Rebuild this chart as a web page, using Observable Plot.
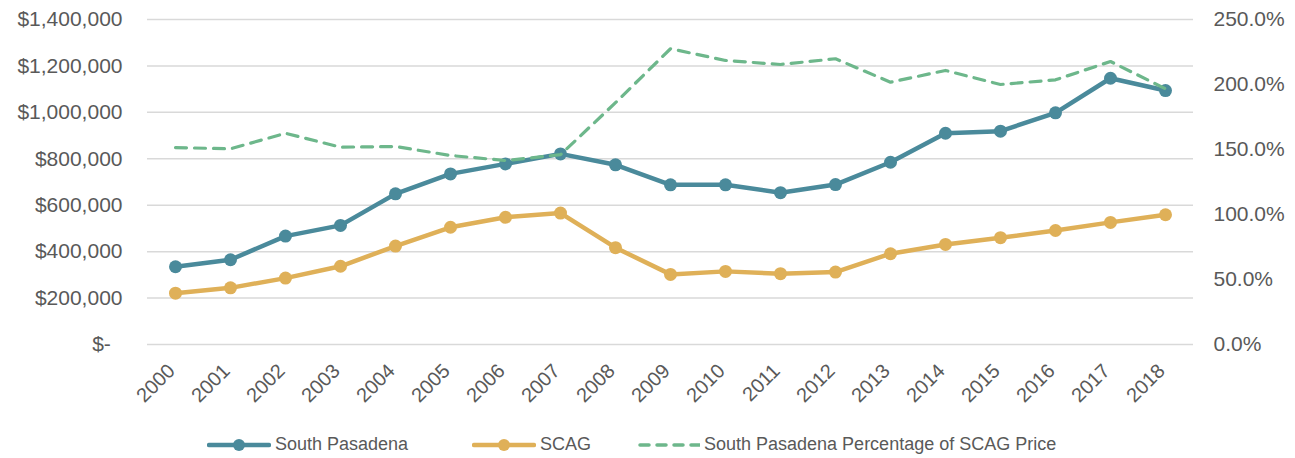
<!DOCTYPE html>
<html>
<head>
<meta charset="utf-8">
<script src="https://cdn.jsdelivr.net/npm/d3@7"></script>
<script src="https://cdn.jsdelivr.net/npm/@observablehq/plot@0.6"></script>
<style>
  html, body { margin: 0; padding: 0; background: #fff; }
  #chart { width: 1295px; }
  .legend { position: relative; height: 33px; width: 1295px; font-family: "Liberation Sans", Arial, sans-serif; font-size: 18px; color: #595959; }
  .item { position: absolute; top: 3px; height: 33px; display: flex; align-items: center; }
  .item svg { margin-right: 4px; }
</style>
</head>
<body>
<div id="chart"></div>
<div class="legend" id="legend"></div>
<script>
const years = ["2000","2001","2002","2003","2004","2005","2006","2007","2008","2009","2010","2011","2012","2013","2014","2015","2016","2017","2018"];
const southPasadena = [335000, 365000, 467000, 513000, 649000, 735000, 778000, 821000, 774000, 688000, 688000, 654000, 689000, 785000, 910000, 919000, 998000, 1147000, 1094000];
const scag = [221000, 244000, 286000, 337000, 424000, 505000, 548000, 566000, 417000, 302000, 315000, 305000, 312000, 391000, 431000, 460000, 491000, 526000, 559000];
const pctOfScag = [151.5, 150.5, 162.5, 151.8, 152.3, 145.4, 141.5, 146.0, 186.0, 227.5, 218.5, 215.4, 219.8, 201.8, 210.8, 200.0, 203.6, 217.7, 196.7];
const dollarTicks = [0, 200000, 400000, 600000, 800000, 1000000, 1200000, 1400000];
const pctTicks = [0, 50, 100, 150, 200, 250];
const seriesNames = ["South Pasadena", "SCAG", "South Pasadena Percentage of SCAG Price"];
const colors = ["#4a8a9b", "#dfb058", "#6db78b"];

const yMax = 1400000, pMax = 250;
const toDollar = p => p * yMax / pMax;

const sp = years.map((y, i) => ({year: y, v: southPasadena[i]}));
const sc = years.map((y, i) => ({year: y, v: scag[i]}));
const pc = years.map((y, i) => ({year: y, v: toDollar(pctOfScag[i])}));

const font = "Liberation Sans, Arial, sans-serif";
const chart = Plot.plot({
  width: 1295,
  height: 425,
  marginLeft: 147,
  marginRight: 102,
  marginTop: 19,
  marginBottom: 81,
  style: {fontFamily: font, fontSize: "21px", color: "#595959", background: "#fff"},
  x: {type: "point", domain: years, padding: 0.5},
  y: {domain: [0, yMax]},
  marks: [
    Plot.ruleY(dollarTicks, {stroke: "#d9d9d9", strokeWidth: 1.5}),
    Plot.axisY({anchor: "left", ticks: dollarTicks, tickSize: 0, tickPadding: 25, label: null,
      tickFormat: d => d === 0 ? "$-\u2007" : "$" + d3.format(",")(d), fontSize: 21}),
    Plot.axisY({anchor: "right", ticks: pctTicks.map(toDollar), tickSize: 0, tickPadding: 20, label: null,
      tickFormat: d => (d * pMax / yMax).toFixed(1) + "%", fontSize: 21}),
    Plot.axisX({tickSize: 0, tickPadding: 23, dx: -4, tickRotate: -45, label: null, fontSize: 20}),
    Plot.line(sc, {x: "year", y: "v", stroke: colors[1], strokeWidth: 4.5}),
    Plot.dot(sc, {x: "year", y: "v", fill: colors[1], r: 6.5}),
    Plot.line(sp, {x: "year", y: "v", stroke: colors[0], strokeWidth: 4.5}),
    Plot.dot(sp, {x: "year", y: "v", fill: colors[0], r: 6.5}),
    Plot.line(pc, {x: "year", y: "v", stroke: colors[2], strokeWidth: 3.2, strokeDasharray: "11 8", strokeLinecap: "round"})
  ]
});
document.getElementById("chart").appendChild(chart);

// legend
const lg = document.getElementById("legend");
const lefts = [207, 472, 638];
seriesNames.forEach((name, i) => {
  const it = document.createElement("div");
  it.className = "item";
  it.style.left = lefts[i] + "px";
  const w = i === 2 ? 62 : 64;
  let inner;
  if (i === 2) {
    inner = `<line x1="2" y1="8" x2="${w}" y2="8" stroke="${colors[i]}" stroke-width="3.5" stroke-dasharray="9 8" stroke-linecap="round"/>`;
  } else {
    inner = `<line x1="2" y1="8" x2="${w - 2}" y2="8" stroke="${colors[i]}" stroke-width="4.5" stroke-linecap="round"/><circle cx="${w / 2}" cy="8" r="6" fill="${colors[i]}"/>`;
  }
  it.innerHTML = `<svg width="${w}" height="16">${inner}</svg><span>${name}</span>`;
  lg.appendChild(it);
});
</script>
</body>
</html>
